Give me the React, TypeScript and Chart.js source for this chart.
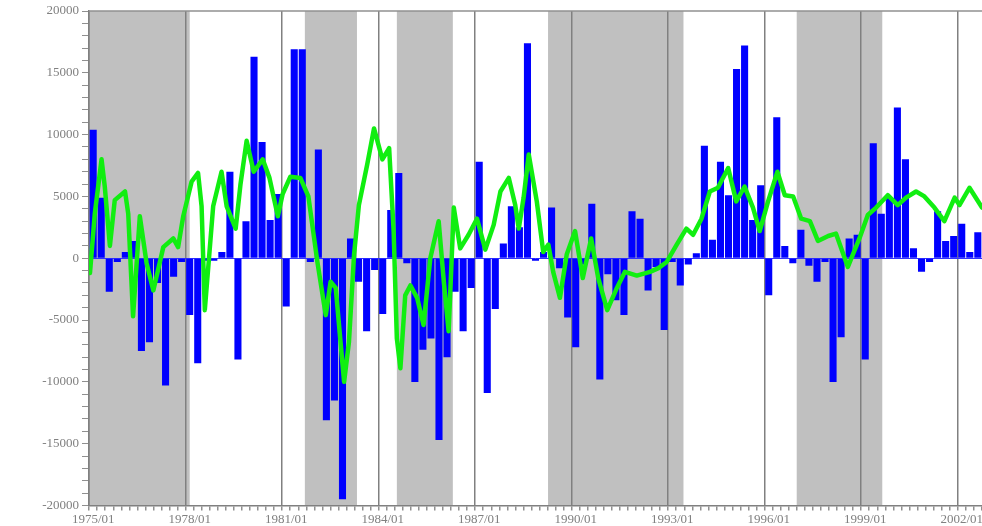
import React, { useEffect, useRef } from 'react';
import { Chart, registerables } from 'chart.js';

Chart.register(...registerables);

// Quarterly bars starting 1975/01
const startYear = 1975;
const barValues = [
  10400, 4900, -2700, -300, 500, 1400, -7500, -6800, -2000, -10300,
  -1500, -300, -4600, -8500, -200, -200, 500, 7000, -8200, 3000,
  16300, 9400, 3100, 5200, -3900, 16900, 16900, -300, 8800, -13100,
  -11500, -19500, 1600, -1900, -5900, -950, -4500, 3900, 6900, -400,
  -10000, -7400, -6500, -14700, -8000, -2700, -5900, -2400, 7800, -10900,
  -4100, 1200, 4200, 2500, 17400, -200, 500, 4100, -800, -4800,
  -7200, -500, 4400, -9800, -1300, -3400, -4600, 3800, 3200, -2600,
  -700, -5800, -300, -2200, -500, 400, 9100, 1500, 7800, 5100,
  15300, 17200, 3100, 5900, -3000, 11400, 1000, -400, 2300, -600,
  -1900, -300, -10000, -6400, 1600, 1900, -8200, 9300, 3600, 4900,
  12200, 8000, 800, -1100, -300, 3800, 1400, 1800, 2800, 500,
  2100,
];

// Green line (time in decimal years, value)
const lineYears = [
  1974.9, 1975.05, 1975.26, 1975.36, 1975.52, 1975.67, 1975.99, 1976.09, 1976.24, 1976.45,
  1976.66, 1976.87, 1977.18, 1977.49, 1977.64, 1977.8, 1978.06, 1978.26, 1978.37, 1978.47,
  1978.73, 1978.99, 1979.15, 1979.43, 1979.58, 1979.77, 1979.99, 1980.27, 1980.48, 1980.74,
  1980.89, 1981.13, 1981.44, 1981.69, 1981.97, 1982.23, 1982.38, 1982.54, 1982.69, 1982.8,
  1982.95, 1983.11, 1983.26, 1983.52, 1983.73, 1983.99, 1984.2, 1984.34, 1984.44, 1984.55,
  1984.7, 1984.86, 1985.07, 1985.27, 1985.48, 1985.74, 1985.9, 1986.05, 1986.21, 1986.41,
  1986.67, 1986.93, 1987.19, 1987.45, 1987.66, 1987.92, 1988.12, 1988.23, 1988.38, 1988.54,
  1988.79, 1988.99, 1989.15, 1989.3, 1989.51, 1989.72, 1989.98, 1990.22, 1990.48, 1990.7,
  1990.98, 1991.28, 1991.53, 1991.9, 1992.31, 1992.57, 1992.83, 1993.14, 1993.44, 1993.65,
  1993.91, 1994.17, 1994.42, 1994.74, 1994.99, 1995.25, 1995.51, 1995.72, 1995.98, 1996.27,
  1996.5, 1996.76, 1997.01, 1997.28, 1997.53, 1997.85, 1998.09, 1998.46, 1998.82, 1999.08,
  1999.34, 1999.7, 2000.01, 2000.27, 2000.58, 2000.84, 2001.15, 2001.46, 2001.78, 2001.93,
  2002.24, 2002.63,
];
const lineValues = [
  -1200, 3600, 8000, 5800, 1000, 4700, 5400, 3600, -4700, 3400,
  -400, -2600, 900, 1600, 900, 3400, 6200, 6900, 4200, -4200,
  4200, 7000, 4200, 2400, 6000, 9500, 7000, 8000, 6500, 3400,
  5200, 6600, 6500, 5000, -300, -4600, -1900, -2400, -6800, -10000,
  -6800, 300, 4300, 7600, 10500, 8000, 8900, 2200, -6500, -8900,
  -3000, -2200, -3200, -5400, 0, 3000, -1900, -5900, 4100, 800,
  1900, 3200, 700, 2700, 5400, 6500, 4300, 2400, 4900, 8400,
  4600, 500, 1100, -1100, -3200, 300, 2200, -1600, 1600, -1600,
  -4200, -2400, -1100, -1400, -1100, -800, -300, 1100, 2400, 1900,
  3200, 5400, 5700, 7300, 4600, 5800, 4100, 2200, 4600, 7000,
  5100, 5000, 3200, 3000, 1400, 1800, 2000, -700, 1600, 3500,
  4100, 5100, 4300, 4900, 5400, 5000, 4100, 3000, 4900, 4300,
  5700, 4100,
];

// Shaded periods (decimal years)
const shadeStarts = [1974.5, 1981.58, 1984.44, 1989.14, 1996.87];
const shadeEnds = [1978.0, 1983.2, 1986.18, 1993.35, 1999.53];

// Tick labels
const xLabelYears = [1975, 1978, 1981, 1984, 1987, 1990, 1993, 1996, 1999, 2002];
const yLabelValues = [20000, 15000, 10000, 5000, 0, -5000, -10000, -15000, -20000];

const xMin = 1974.87;
const xMax = 2002.63;

const isLabelYear = (v: number) => xLabelYears.some((y) => Math.abs(v - y) < 1e-6);

const shadePlugin = {
  id: 'shadeAndFrame',
  beforeDraw(chart: any) {
    const { ctx, chartArea: a, scales } = chart;
    const x = scales.x;
    ctx.save();
    ctx.fillStyle = '#c0c0c0';
    for (let i = 0; i < shadeStarts.length; i++) {
      const x0 = Math.max(a.left, x.getPixelForValue(shadeStarts[i]));
      const x1 = Math.min(a.right, x.getPixelForValue(shadeEnds[i]));
      if (x1 > x0) ctx.fillRect(x0, a.top, x1 - x0, a.bottom - a.top);
    }
    ctx.restore();
  },
  afterDraw(chart: any) {
    const { ctx, chartArea: a } = chart;
    ctx.save();
    ctx.strokeStyle = '#909090';
    ctx.lineWidth = 1.5;
    ctx.beginPath();
    ctx.moveTo(a.left, a.top);
    ctx.lineTo(a.right, a.top);
    ctx.stroke();
    ctx.restore();
  },
};

export default function App() {
  const ref = useRef<HTMLCanvasElement | null>(null);

  useEffect(() => {
    if (!ref.current) return;
    const barData = barValues.map((v, i) => ({ x: startYear + i / 4, y: v }));
    const lineData = lineYears.map((t, i) => ({ x: t, y: lineValues[i] }));
    const font = { family: "'Liberation Serif', 'Times New Roman', serif", size: 13 };

    const chart = new Chart(ref.current, {
      type: 'bar',
      data: {
        datasets: [
          {
            type: 'line',
            data: lineData,
            borderColor: '#11ee11',
            borderWidth: 4.5,
            pointRadius: 0,
            tension: 0,
            borderJoinStyle: 'round',
            borderCapStyle: 'round',
            order: 0,
          } as any,
          {
            type: 'bar',
            data: barData,
            backgroundColor: '#0000ff',
            borderWidth: 0,
            barPercentage: 0.88,
            categoryPercentage: 1,
            order: 1,
          } as any,
        ],
      },
      options: {
        responsive: false,
        animation: false,
        devicePixelRatio: 1,
        layout: { padding: { top: 11, left: 0, right: 0, bottom: 0 } },
        plugins: {
          legend: { display: false },
          tooltip: { enabled: false },
        },
        scales: {
          x: {
            type: 'linear',
            min: xMin,
            max: xMax,
            offset: false,
            afterFit: (s: any) => {
              s.height = 20.5;
              s.paddingLeft = 0;
              s.paddingRight = 0;
            },
            border: { display: true, color: '#808080', width: 1.5 },
            grid: {
              color: (c: any) => (c.tick && isLabelYear(c.tick.value) ? '#808080' : 'rgba(0,0,0,0)'),
              lineWidth: 1.5,
              tickColor: '#909090',
              tickLength: 5,
              drawTicks: true,
            },
            ticks: {
              stepSize: 0.25,
              includeBounds: false,
              autoSkip: false,
              maxTicksLimit: 1000,
              maxRotation: 0,
              minRotation: 0,
              padding: 1,
              color: '#808080',
              font,
              callback: (v: any) => {
                const n = Number(v);
                return isLabelYear(n) ? `${Math.round(n)}/01` : '';
              },
            },
          },
          y: {
            type: 'linear',
            min: -20000,
            max: 20000,
            afterFit: (s: any) => {
              s.width = 89;
            },
            border: { display: true, color: '#808080', width: 1.5 },
            grid: {
              color: (c: any) => (c.tick && c.tick.value === 0 ? '#3333ff' : 'rgba(0,0,0,0)'),
              lineWidth: 1,
              tickColor: '#909090',
              tickLength: 7,
              drawTicks: true,
            },
            ticks: {
              stepSize: 1000,
              autoSkip: false,
              maxTicksLimit: 1000,
              padding: 3,
              color: '#808080',
              font,
              callback: (v: any) => (yLabelValues.includes(Number(v)) ? String(v) : ''),
            },
          },
        },
      },
      plugins: [shadePlugin],
    });
    return () => chart.destroy();
  }, []);

  return (
    <div style={{ position: 'fixed', left: 0, top: 0, width: 982, height: 526, background: '#fff' }}>
      <canvas ref={ref} width={982} height={526} style={{ display: 'block', width: 982, height: 526 }} />
    </div>
  );
}
